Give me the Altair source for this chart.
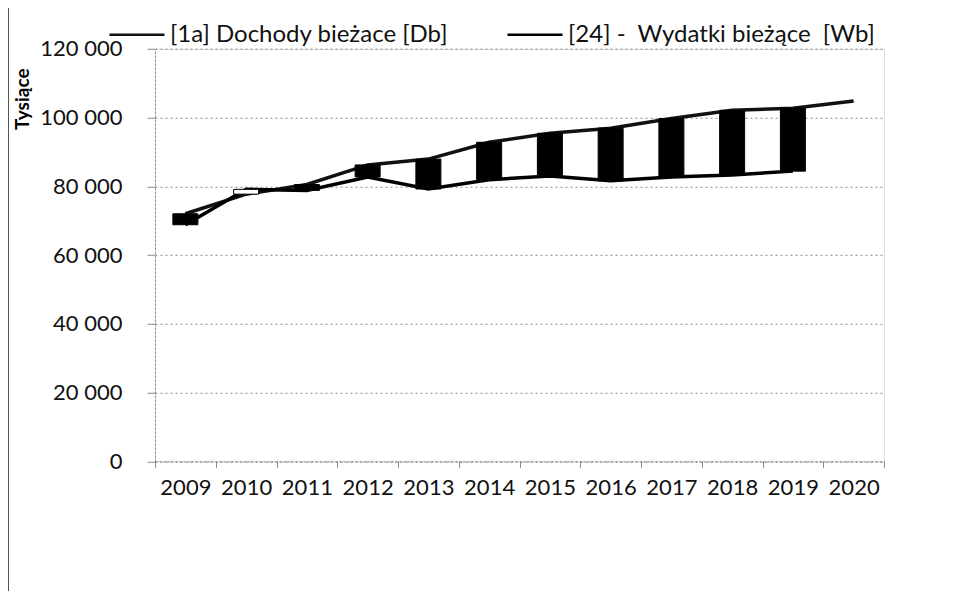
import altair as alt
import pandas as pd

years = ["2009", "2010", "2011", "2012", "2013", "2014", "2015", "2016", "2017", "2018", "2019", "2020"]
dochody = [72000, 77700, 80500, 86200, 87900, 92800, 95400, 96900, 99700, 102100, 102700, 104800]
wydatki = [68800, 79100, 78800, 82700, 79200, 81900, 83000, 81600, 82700, 83300, 84400, None]
series_names = ["[1a] Dochody bieżace [Db]", "[24] -\u00a0 Wydatki bieżące\u00a0 [Wb]"]
y_ticks = [0, 20000, 40000, 60000, 80000, 100000, 120000]

rows = []
for y, d, w in zip(years, dochody, wydatki):
    rows.append({"year": y, "series": series_names[0], "value": d})
    if w is not None:
        rows.append({"year": y, "series": series_names[1], "value": w})
lines_df = pd.DataFrame(rows)

bar_rows = []
for y, d, w in zip(years, dochody, wydatki):
    if w is None:
        continue
    bar_rows.append({"year": y, "low": min(d, w), "high": max(d, w),
                     "kind": "down" if d > w else "up"})
bars_df = pd.DataFrame(bar_rows)

FONT = "Lato"

x_enc = alt.X(
    "year:O",
    sort=years,
    scale=alt.Scale(domain=years, paddingInner=0, paddingOuter=0),
    axis=alt.Axis(
        title=None, labelAngle=0, tickBand="extent", tickSize=6,
        tickColor="#888", domainColor="#888", domainDash=[2, 2],
        labelFontSize=22, labelFont=FONT, labelColor="#111", labelPadding=10,
        grid=False,
    ),
)

y_enc = alt.Y(
    "value:Q",
    scale=alt.Scale(domain=[0, 120000], nice=False),
    axis=alt.Axis(
        title="Tysiące", values=y_ticks,
        labelExpr="replace(format(datum.value, ','), ',', ' ')",
        labelFontSize=22, labelFont=FONT, labelColor="#111", labelPadding=25,
        tickSize=8, tickColor="#888", domainColor="#888", domainDash=[2, 2],
        grid=True, gridColor="#888", gridDash=[2, 3], gridWidth=1,
        titleFont=FONT, titleFontSize=19, titleFontWeight="bold", titleColor="#000",
        titleAngle=-90, titleX=-133, titleY=50, titleAlign="center", titleBaseline="middle",
    ),
)

lines = alt.Chart(lines_df).mark_line(strokeWidth=3.5).encode(
    x=x_enc,
    y=y_enc,
    color=alt.Color(
        "series:N",
        scale=alt.Scale(domain=series_names, range=["#111111", "#000000"]),
        legend=alt.Legend(
            title=None, orient="none", direction="horizontal",
            legendX=-47, legendY=-43,
            symbolType="stroke", symbolSize=3025, symbolStrokeWidth=2.5,
            labelFont=FONT, labelFontSize=24, labelColor="#111", labelLimit=500,
            labelOffset=4, columnPadding=53,
        ),
    ),
)

bars = alt.Chart(bars_df).mark_bar(size=25, stroke="black", strokeWidth=1).encode(
    x=alt.X("year:O", sort=years),
    y=alt.Y("low:Q"),
    y2="high:Q",
    fill=alt.condition(alt.datum.kind == "down", alt.value("black"), alt.value("white")),
)

frame = alt.Chart(pd.DataFrame({"a": [0]})).mark_rule(color="#555", strokeWidth=1).encode(
    x=alt.value(-146.5), y=alt.value(-41), y2=alt.value(556)
)

chart = alt.layer(lines, bars, frame).properties(
    width=729, height=412.5,
    padding={"left": 147, "top": 40.75, "right": 60, "bottom": 130},
    autosize=alt.AutoSizeParams(type="none"),
).configure_view(stroke=None).configure(background="white")

chart.save("out.html", embed_options={"renderer": "svg", "actions": False})
